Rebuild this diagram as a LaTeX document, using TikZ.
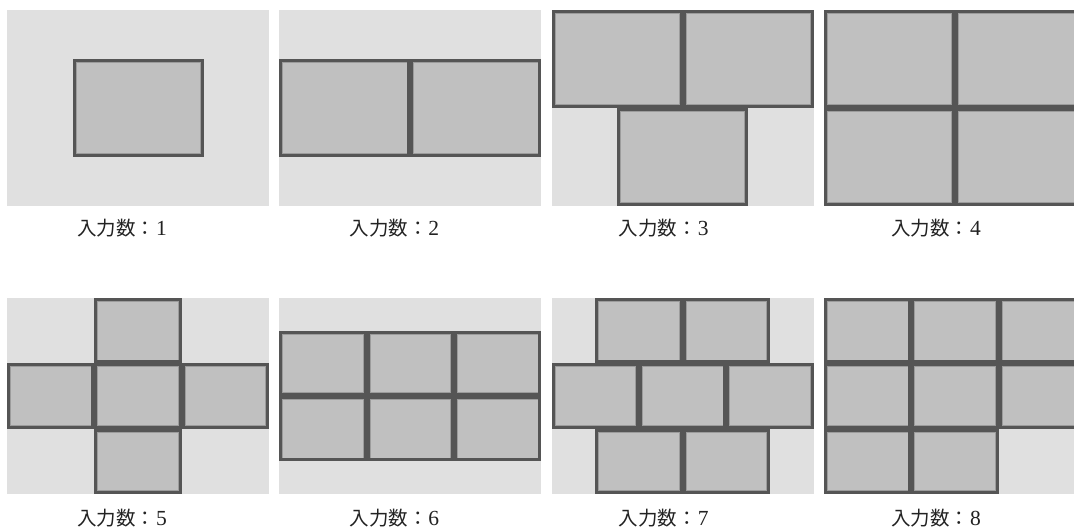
\documentclass[tikz,border=0pt]{standalone}
\usepackage{fontspec}
\newfontfamily\cjk{Noto Sans CJK JP}
\newfontfamily\digitfont{Liberation Serif}
\definecolor{bgc}{HTML}{E0E0E0}
\definecolor{tilec}{HTML}{C0C0C0}
\definecolor{bordc}{HTML}{555555}
\definecolor{innerc}{HTML}{9C9C9C}
\definecolor{txtc}{HTML}{222222}
\tikzset{
  panelbg/.style={fill=bgc},
  lbl/.style={anchor=west, inner sep=0pt, text=txtc, font=\cjk\fontsize{19.5}{24}\selectfont},
  num/.style={anchor=base west, inner sep=0pt, text=txtc, font=\digitfont\fontsize{21.5}{26}\selectfont},
}
\newcommand{\mytile}[4]{%
  \begin{scope}[shift={(#1,#2)}]
    \fill[tilec] (0,0) rectangle (#3,#4);
    \draw[innerc, line width=0.8] (3.4,3.4) rectangle ({#3-3.4},{#4-3.4});
    \draw[bordc, line width=3] (1.5,1.5) rectangle ({#3-1.5},{#4-1.5});
  \end{scope}}
\begin{document}
\begin{tikzpicture}[x=1pt,y=-1pt]
\useasboundingbox (0,0) rectangle (1074,528);
\fill[white] (0,0) rectangle (1074,528);
\clip (0,0) rectangle (1074,528);
\def\W{131}\def\H{98}
\def\w{87.333}\def\h{65.333}
% backgrounds
\foreach \px in {7,279.33,551.67,824}{
  \fill[panelbg] (\px,10) rectangle ++(262,196);
  \fill[panelbg] (\px,298) rectangle ++(262,196);
}
% panel 1
\begin{scope}[shift={(7,10)}]
  \mytile{65.5}{49}{\W}{\H}
\end{scope}
% panel 2
\begin{scope}[shift={(279.33,10)}]
  \mytile{0}{49}{\W}{\H}
  \mytile{131}{49}{\W}{\H}
\end{scope}
% panel 3
\begin{scope}[shift={(551.67,10)}]
  \mytile{0}{0}{\W}{\H}
  \mytile{131}{0}{\W}{\H}
  \mytile{65.5}{98}{\W}{\H}
\end{scope}
% panel 4
\begin{scope}[shift={(824,10)}]
  \mytile{0}{0}{\W}{\H}
  \mytile{131}{0}{\W}{\H}
  \mytile{0}{98}{\W}{\H}
  \mytile{131}{98}{\W}{\H}
\end{scope}
% panel 5
\begin{scope}[shift={(7,298)}]
  \mytile{\w}{0}{\w}{\h}
  \mytile{0}{\h}{\w}{\h}
  \mytile{\w}{\h}{\w}{\h}
  \mytile{2*\w}{\h}{\w}{\h}
  \mytile{\w}{2*\h}{\w}{\h}
\end{scope}
% panel 6
\begin{scope}[shift={(279.33,298)}]
  \foreach \c in {0,1,2}{
    \mytile{\c*\w}{0.5*\h}{\w}{\h}
    \mytile{\c*\w}{1.5*\h}{\w}{\h}
  }
\end{scope}
% panel 7
\begin{scope}[shift={(551.67,298)}]
  \mytile{0.5*\w}{0}{\w}{\h}
  \mytile{1.5*\w}{0}{\w}{\h}
  \mytile{0}{\h}{\w}{\h}
  \mytile{\w}{\h}{\w}{\h}
  \mytile{2*\w}{\h}{\w}{\h}
  \mytile{0.5*\w}{2*\h}{\w}{\h}
  \mytile{1.5*\w}{2*\h}{\w}{\h}
\end{scope}
% panel 8
\begin{scope}[shift={(824,298)}]
  \foreach \c in {0,1,2}{
    \mytile{\c*\w}{0}{\w}{\h}
    \mytile{\c*\w}{\h}{\w}{\h}
  }
  \mytile{0}{2*\h}{\w}{\h}
  \mytile{\w}{2*\h}{\w}{\h}
\end{scope}
% labels
\foreach \i/\x/\y in {1/77/228, 2/349.33/228, 3/618.67/228, 4/891/228,
                      5/77/518, 6/349.33/518, 7/618.67/518, 8/891/518}{
  \node[lbl] (l\i) at (\x,\y) {入力数：};
  \node[num] (n\i) at ([xshift=0.5pt]l\i.base east) {\i};
}
\end{tikzpicture}
\end{document}
